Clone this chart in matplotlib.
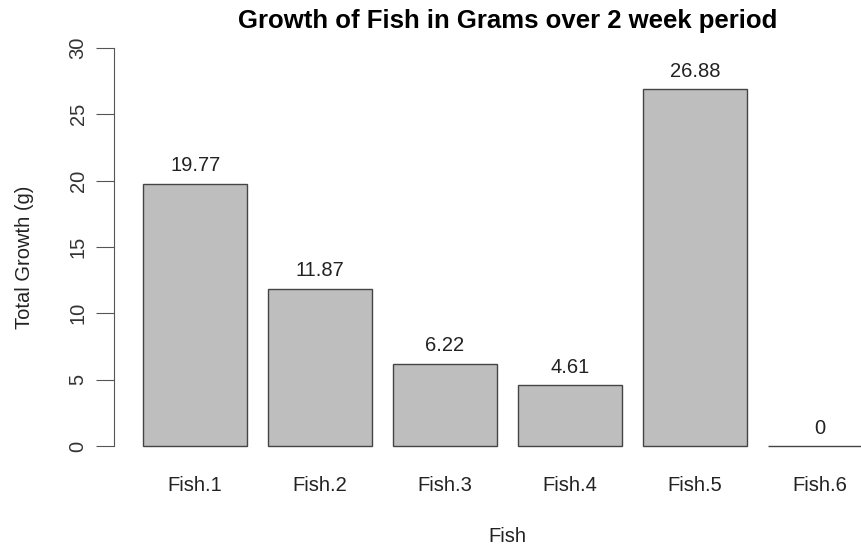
import matplotlib.pyplot as plt
import numpy as np

plt.rcParams['font.family'] = ['Liberation Sans', 'DejaVu Sans']

fish = ['Fish.1', 'Fish.2', 'Fish.3', 'Fish.4', 'Fish.5', 'Fish.6']
growth = [19.77, 11.87, 6.22, 4.61, 26.88, 0]
y_ticks = [0, 5, 10, 15, 20, 25, 30]

fig = plt.figure(figsize=(8.61, 5.48), dpi=100)
ax = fig.add_axes([114 / 861, 86 / 548, 787 / 861, 430 / 548])

# R barplot style: width 1, space 0.2
x = 0.2 + np.arange(len(fish)) * 1.2 + 0.5
bars = ax.bar(x, growth, width=1.0, color='#bebebe', edgecolor='#444444', linewidth=1.0)

ax.bar_label(bars, labels=['{:g}'.format(v) for v in growth], padding=6,
             fontsize=14.5, color='#222222')

ax.set_xlim(-0.08, 7.48)
ax.set_ylim(-1.2, 31.2)

for s in ['top', 'right', 'bottom']:
    ax.spines[s].set_visible(False)
ax.spines['left'].set_bounds(0, 30)
ax.spines['left'].set_color('#555555')

ax.set_yticks(y_ticks)
ax.set_yticklabels([str(t) for t in y_ticks], rotation=90, va='center', fontsize=14.5, color='#333333')
ax.tick_params(axis='y', length=13, color='#555555', pad=6)
ax.set_xticks(x)
ax.set_xticklabels(fish, fontsize=14.5, color='#222222')
ax.tick_params(axis='x', length=0, pad=10)

fig.text(114 / 861 + 0.5 * 787 / 861, 1 - 21 / 548, 'Growth of Fish in Grams over 2 week period',
         ha='center', va='center', fontsize=18.5, fontweight='bold')
fig.text(114 / 861 + 0.5 * 787 / 861, 1 - 537 / 548, 'Fish', ha='center', va='center', fontsize=14.5, color='#222222')
fig.text(25 / 861, 1 - 257 / 548, 'Total Growth (g)', rotation=90, ha='center', va='center', fontsize=14.5, color='#222222')

fig.savefig('out.png', dpi=100)
